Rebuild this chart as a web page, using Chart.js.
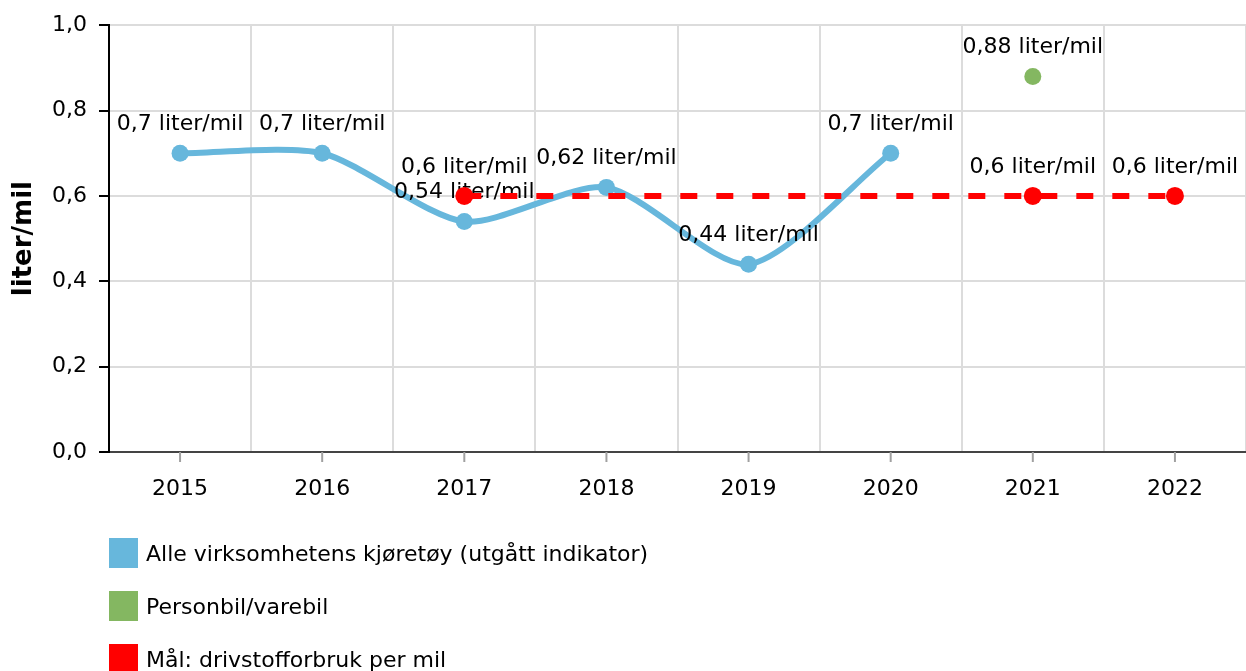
<!DOCTYPE html>
<html>
<head>
<meta charset="utf-8">
<script src="https://cdn.jsdelivr.net/npm/chart.js@4/dist/chart.umd.min.js"></script>
<style>
  body { margin: 0; background: #fff; }
  #wrap { position: relative; width: 1246px; height: 671px; overflow: hidden; }
  #legend { position: absolute; left: 109px; top: 538px; font-family: "DejaVu Sans", Verdana, sans-serif; font-size: 22px; color: #000; }
  .item { height: 30px; margin-bottom: 23px; display: flex; align-items: center; }
  .box { width: 29px; height: 30px; margin-right: 8px; }
</style>
</head>
<body>
<div id="wrap">
  <canvas id="chart"></canvas>
  <div id="legend"></div>
</div>
<script>
// years on the x axis
const years = ['2015', '2016', '2017', '2018', '2019', '2020', '2021', '2022'];

// series values (liter per mil)
const alle_kjoretoy = [0.7, 0.7, 0.54, 0.62, 0.44, 0.7, null, null];
const personbil = [null, null, null, null, null, null, 0.88, null];
const maal = [null, null, 0.6, null, null, null, 0.6, 0.6];

const series_names = [
    'Alle virksomhetens kjøretøy (utgått indikator)',
    'Personbil/varebil',
    'Mål: drivstofforbruk per mil'
];
const series_colors = ['#67b7dc', '#84b761', '#ff0000'];

const y_ticks = [0, 0.2, 0.4, 0.6, 0.8, 1.0];
const unit = 'liter/mil';
const font_family = '"DejaVu Sans", Verdana, sans-serif';

function comma(v) {
    return String(v).replace('.', ',');
}

// value labels drawn right after each dataset, so later datasets cover them
const value_labels = {
    id: 'value_labels',
    afterDatasetDraw(chart, args) {
        let ctx = chart.ctx;
        let ds = chart.data.datasets[args.index];
        ctx.save();
        ctx.font = '22px ' + font_family;
        ctx.fillStyle = '#000';
        ctx.textAlign = 'center';
        ctx.textBaseline = 'middle';
        args.meta.data.forEach((pt, i) => {
            let v = ds.data[i];
            if (v === null) return;
            ctx.fillText(comma(v) + ' ' + unit, pt.x, pt.y - 29);
        });
        ctx.restore();
    }
};

// small tick marks under the x axis at each year
const x_marks = {
    id: 'x_marks',
    afterDraw(chart) {
        let ctx = chart.ctx;
        let x = chart.scales.x;
        ctx.save();
        ctx.strokeStyle = '#a0a0a0';
        ctx.lineWidth = 2;
        years.forEach((y, i) => {
            let px = x.getPixelForValue(i);
            ctx.beginPath();
            ctx.moveTo(px, x.top);
            ctx.lineTo(px, x.top + 10);
            ctx.stroke();
        });
        ctx.restore();
    }
};

let canvas = document.getElementById('chart');

new Chart(canvas, {
    type: 'line',
    data: {
        labels: years,
        datasets: [{
            label: series_names[1],
            data: personbil,
            borderColor: series_colors[1],
            backgroundColor: series_colors[1],
            showLine: false,
            pointRadius: 8.5,
            pointBorderWidth: 0
        }, {
            label: series_names[2],
            data: maal,
            borderColor: series_colors[2],
            backgroundColor: series_colors[2],
            borderWidth: 6,
            borderDash: [17, 19],
            spanGaps: true,
            tension: 0,
            pointRadius: 9,
            pointBorderWidth: 0
        }, {
            label: series_names[0],
            data: alle_kjoretoy,
            borderColor: series_colors[0],
            backgroundColor: series_colors[0],
            borderWidth: 6,
            tension: 0.25,
            pointRadius: 8.5,
            pointBorderWidth: 0
        }]
    },
    options: {
        responsive: true,
        maintainAspectRatio: false,
        animation: false,
        layout: { autoPadding: false, padding: { top: 23, right: 0, bottom: 159, left: 0 } },
        plugins: {
            legend: { display: false },
            tooltip: { enabled: false }
        },
        scales: {
            x: {
                offset: true,
                grid: { offset: true, color: '#dcdcdc', lineWidth: 2, drawTicks: false },
                border: { color: '#444', width: 2 },
                ticks: { color: '#000', font: { family: font_family, size: 22 }, padding: 24, maxRotation: 0 },
                afterFit(scale) {
                    scale.height = 60;
                    scale.paddingLeft = 0;
                    scale.paddingRight = 0;
                }
            },
            y: {
                min: 0,
                max: 1,
                afterBuildTicks(scale) { scale.ticks = y_ticks.map(v => ({ value: v })); },
                grid: { color: '#dcdcdc', lineWidth: 2, tickColor: '#000', tickLength: 10 },
                border: { color: '#000', width: 2 },
                ticks: {
                    color: '#000',
                    font: { family: font_family, size: 22 },
                    padding: 12,
                    callback: v => v.toFixed(1).replace('.', ',')
                },
                title: {
                    display: true,
                    text: unit,
                    color: '#000',
                    font: { family: font_family, size: 26, weight: 'bold' },
                    padding: { top: 9, bottom: 0 }
                },
                afterFit(scale) { scale.width = 109; }
            }
        }
    },
    plugins: [value_labels, x_marks]
});

let legend = document.getElementById('legend');
series_names.forEach((name, i) => {
    let item = document.createElement('div');
    item.className = 'item';
    let box = document.createElement('div');
    box.className = 'box';
    box.style.background = series_colors[i];
    let txt = document.createElement('span');
    txt.textContent = name;
    item.appendChild(box);
    item.appendChild(txt);
    legend.appendChild(item);
});
</script>
</body>
</html>
